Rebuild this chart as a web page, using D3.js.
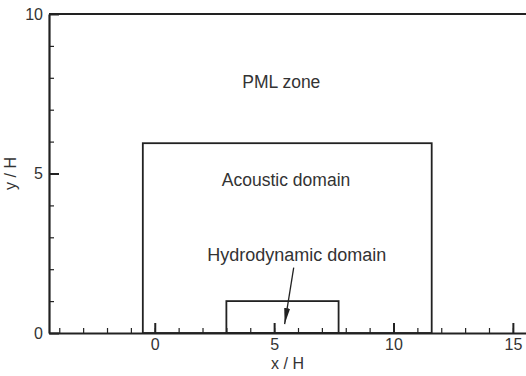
<!DOCTYPE html>
<html>
<head>
<meta charset="utf-8">
<script src="https://cdn.jsdelivr.net/npm/d3@7"></script>
<style>
  body { margin: 0; background: #fff; }
  svg { display: block; }
  .axis path, .axis line { stroke: #222; }
  .axis text { font-family: "Liberation Sans", Arial, sans-serif; font-size: 16px; fill: #333; }
  .lbl { font-family: "Liberation Sans", Arial, sans-serif; fill: #333; }
</style>
</head>
<body>
<svg id="chart" width="526" height="376"></svg>
<script>
// axis ticks
var xMajor = [0, 5, 10, 15];
var yMajor = [0, 5, 10];
var xMinor = d3.range(-4, 16);
var yMinor = d3.range(1, 10);

// boxes: [x0, x1, y0, y1]
var acousticBox = [-0.5, 11.6, 0, 5.95];
var hydroBox = [3, 7.7, 0, 1];

// region labels and the arrow (x, y in x/H, y/H)
var labelText = ['PML zone', 'Acoustic domain', 'Hydrodynamic domain'];
var labelX = [5.3, 5.5, 5.95];
var labelY = [7.68, 4.6, 2.26];
var labelSize = [17.5, 17.5, 18];
var arrowFrom = [5.82, 2.05];
var arrowTo = [5.44, 0.28];

var svg = d3.select('#chart');
var margin = {left: 49, right: 0, top: 14, bottom: 43};
var W = 526, H = 376;

var x = d3.scaleLinear().domain([-4.43, 15.55]).range([margin.left, W - margin.right]);
var y = d3.scaleLinear().domain([0, 10]).range([H - margin.bottom, margin.top]);

// minor ticks first
svg.append('g')
  .attr('class', 'axis')
  .attr('transform', 'translate(0,' + y(0) + ')')
  .call(d3.axisBottom(x).tickValues(xMinor).tickSize(-5).tickSizeOuter(0).tickFormat(''))
  .call(function(g) { g.select('.domain').remove(); })
  .selectAll('line').attr('stroke-width', 1.2);

svg.append('g')
  .attr('class', 'axis')
  .attr('transform', 'translate(' + x.range()[0] + ',0)')
  .call(d3.axisLeft(y).tickValues(yMinor).tickSize(-5).tickSizeOuter(0).tickFormat(''))
  .call(function(g) { g.select('.domain').remove(); })
  .selectAll('line').attr('stroke-width', 1.2);

// major ticks + labels
var xAxis = svg.append('g')
  .attr('class', 'axis')
  .attr('transform', 'translate(0,' + y(0) + ')')
  .call(d3.axisBottom(x).tickValues(xMajor).tickSize(-10).tickSizeOuter(0).tickPadding(6));
xAxis.select('.domain').attr('stroke-width', 2.2);
xAxis.selectAll('.tick line').attr('stroke-width', 2);

var yAxis = svg.append('g')
  .attr('class', 'axis')
  .attr('transform', 'translate(' + x.range()[0] + ',0)')
  .call(d3.axisLeft(y).tickValues(yMajor).tickSize(-10).tickSizeOuter(0).tickPadding(6));
yAxis.select('.domain').attr('stroke-width', 2.2);
yAxis.selectAll('.tick line').attr('stroke-width', 2);

// top frame line
svg.append('line')
  .attr('x1', x.range()[0]).attr('x2', x.range()[1])
  .attr('y1', y(10)).attr('y2', y(10))
  .attr('stroke', '#222').attr('stroke-width', 2.2);

// boxes
[acousticBox, hydroBox].forEach(function(b) {
  svg.append('rect')
    .attr('x', x(b[0])).attr('y', y(b[3]))
    .attr('width', x(b[1]) - x(b[0])).attr('height', y(b[2]) - y(b[3]))
    .attr('fill', 'none').attr('stroke', '#222').attr('stroke-width', 1.8);
});

// labels
svg.selectAll('.lbl').data(labelText).enter().append('text')
  .attr('class', 'lbl')
  .attr('x', function(d, i) { return x(labelX[i]); })
  .attr('y', function(d, i) { return y(labelY[i]); })
  .attr('text-anchor', 'middle')
  .style('font-size', function(d, i) { return labelSize[i] + 'px'; })
  .text(function(d) { return d; });

// arrow
svg.append('defs').append('marker')
  .attr('id', 'head')
  .attr('viewBox', '0 0 16 6')
  .attr('refX', 16).attr('refY', 3)
  .attr('markerWidth', 16).attr('markerHeight', 6)
  .attr('markerUnits', 'userSpaceOnUse')
  .attr('orient', 'auto')
  .append('path').attr('d', 'M0,0 L16,3 L0,6 Z').attr('fill', '#222');

svg.append('line')
  .attr('x1', x(arrowFrom[0])).attr('y1', y(arrowFrom[1]))
  .attr('x2', x(arrowTo[0])).attr('y2', y(arrowTo[1]))
  .attr('stroke', '#222').attr('stroke-width', 1.3)
  .attr('marker-end', 'url(#head)');

// axis titles
svg.append('text')
  .attr('class', 'lbl')
  .attr('x', (x.range()[0] + x.range()[1]) / 2)
  .attr('y', 369)
  .attr('text-anchor', 'middle')
  .style('font-size', '16px')
  .text('x / H');

svg.append('text')
  .attr('class', 'lbl')
  .attr('transform', 'translate(16,' + ((y(0) + y(10)) / 2) + ') rotate(-90)')
  .attr('text-anchor', 'middle')
  .style('font-size', '16px')
  .text('y / H');
</script>
</body>
</html>
